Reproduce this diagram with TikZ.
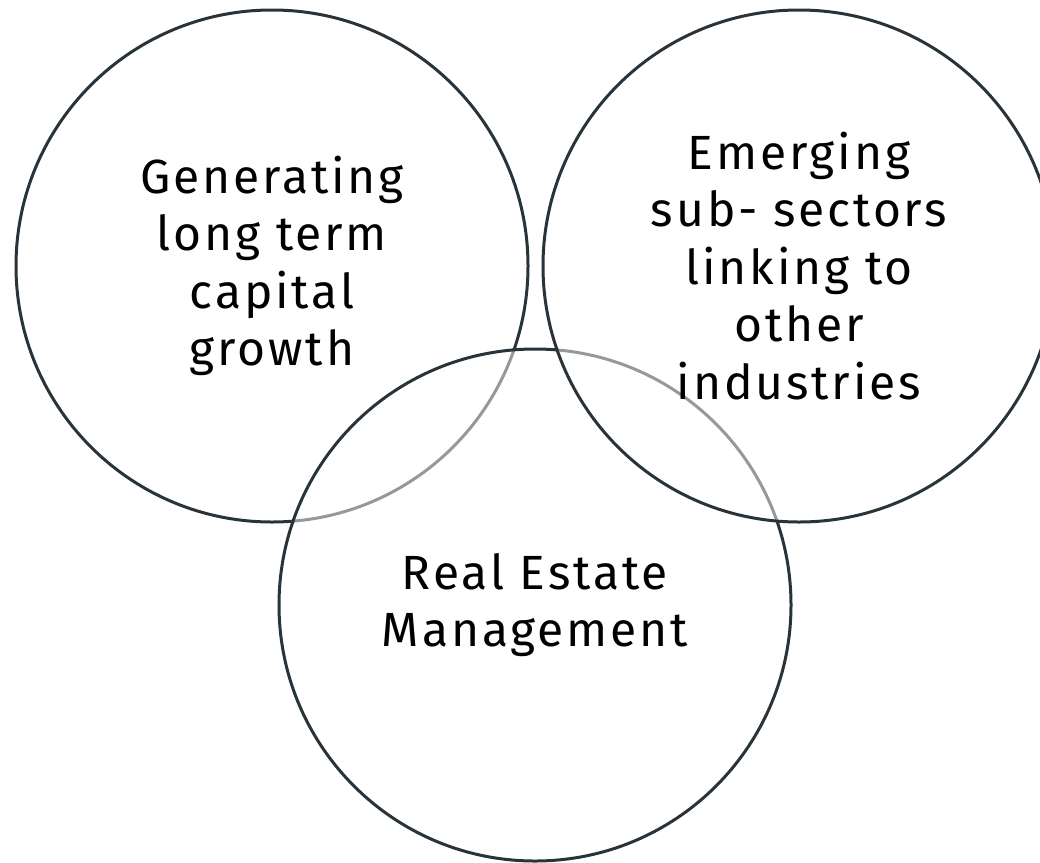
\documentclass[tikz,border=0pt]{standalone}
\usepackage{fontspec}
\setmainfont{Fira Sans}[LetterSpace=6]
\definecolor{ringline}{RGB}{41,52,58}
\begin{document}
\begin{tikzpicture}[x=1pt,y=-1pt,
  ring/.style={circle, draw=ringline, line width=3pt, fill=white,
    fill opacity=0.5, text opacity=1, inner sep=0pt, minimum size=512pt,
    align=center, text=black,
    font=\fontsize{48}{57.5}\selectfont}]
  \useasboundingbox (0,0) rectangle (1040,862);
  \clip (0,0) rectangle (1040,862);
  % three overlapping rings, later ones veil the earlier outlines
  \node[ring] (growth) at (272,266) {Generating\\long term\\capital\\growth};
  \node[ring] (estate) at (535,605) {Real Estate\\Management};
  \node[ring] (emerging) at (799,266) {Emerging\\sub- sectors\\linking to\\other\\industries};
\end{tikzpicture}
\end{document}
